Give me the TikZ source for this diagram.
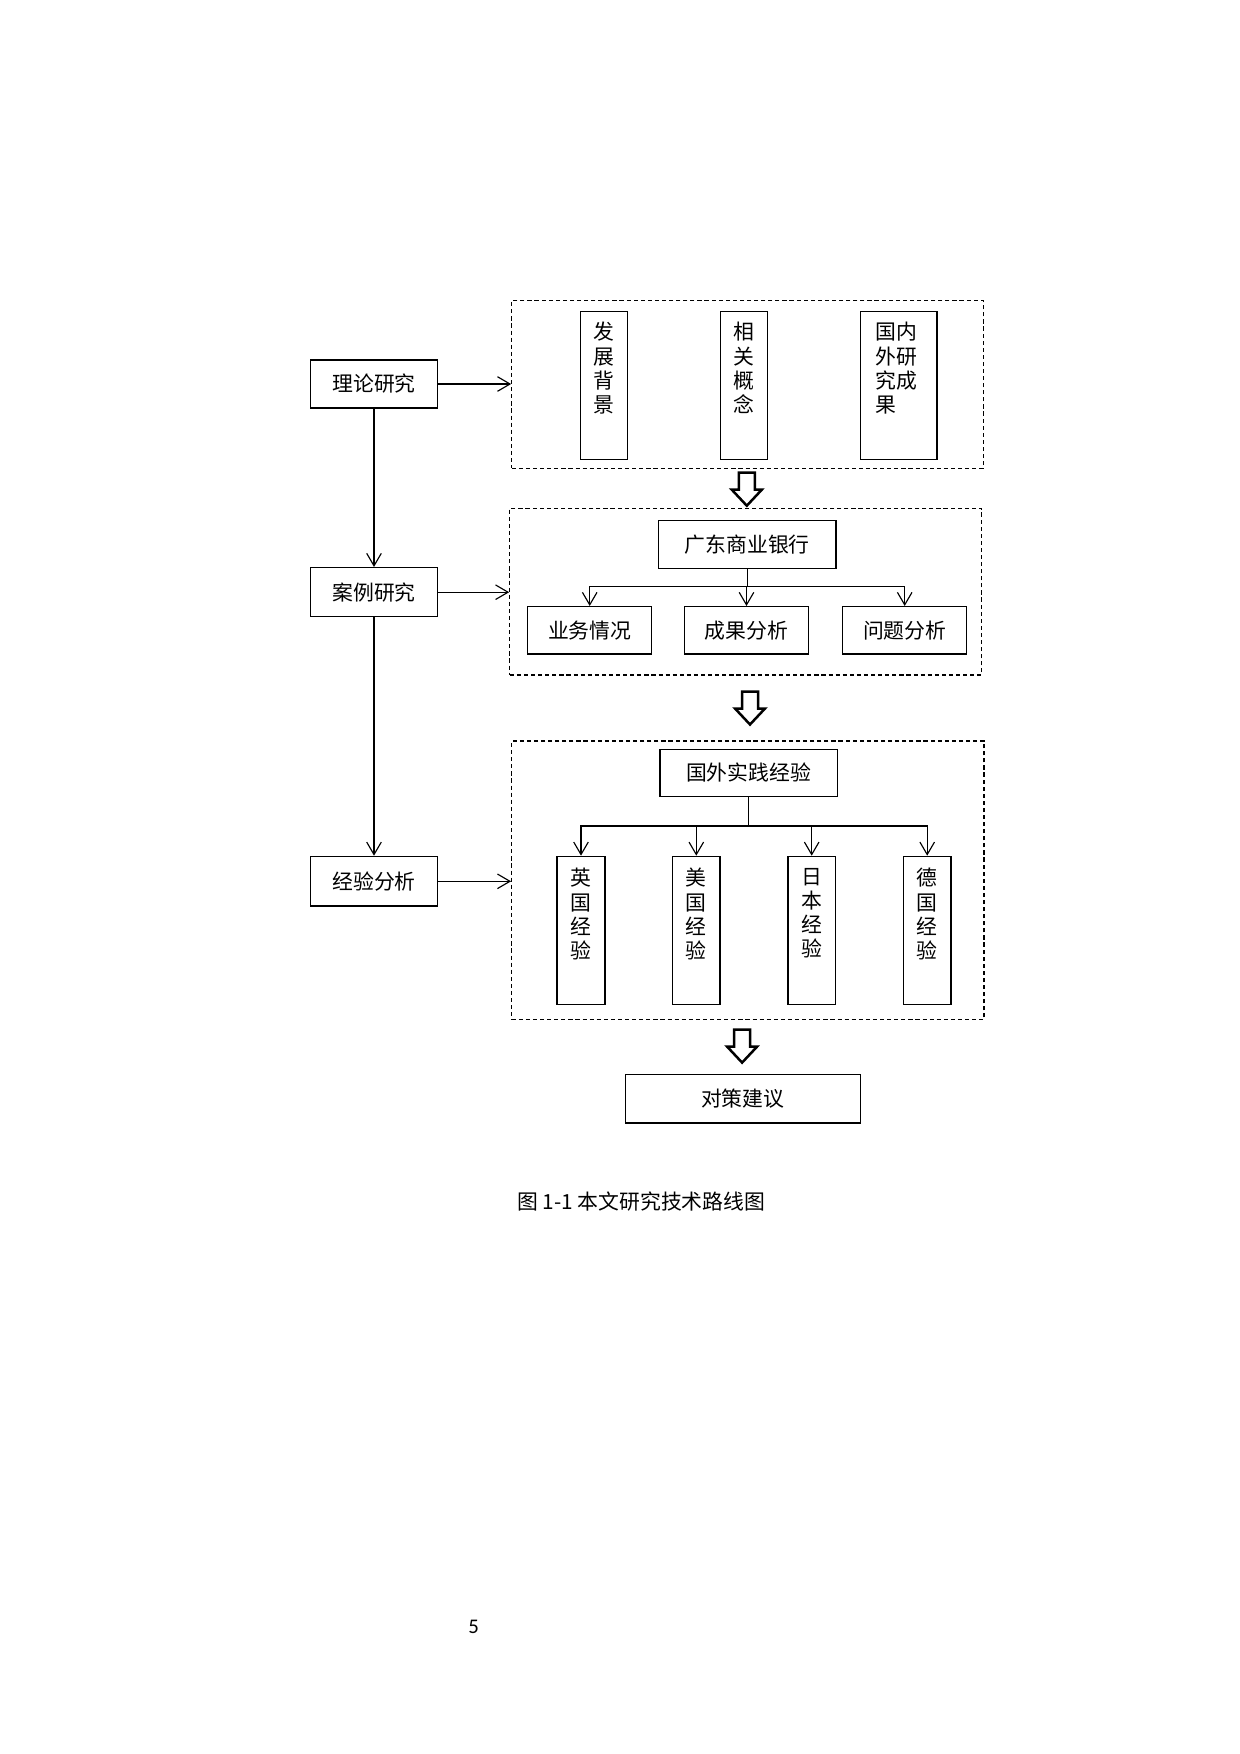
\documentclass[tikz,border=0pt]{standalone}
\usepackage{fontspec}
\setmainfont{Noto Sans CJK SC}
\newfontfamily\numfont{Carlito}
\usetikzlibrary{arrows.meta,calc}
\begin{document}
\begin{tikzpicture}[x=0.48pt,y=-0.48pt,
  box/.style={draw, line width=0.7pt, inner sep=0pt, font=\fontsize{10pt}{11.6pt}\selectfont},
  vbox/.style={draw, line width=0.7pt, inner sep=0pt},
  vtxt/.style={anchor=north, align=left, inner sep=0pt, font=\fontsize{10pt}{11.6pt}\selectfont},
  dbox/.style={draw, line width=0.6pt, dash pattern=on 2pt off 1.4pt, inner sep=0pt},
  arr/.style={line width=0.55pt, -{Straight Barb[length=6pt,width=7pt,line width=0.55pt]}},
  ln/.style={line width=0.55pt},
  hollowdown/.pic={\draw[line width=1.2pt, line join=miter] (-8,0) -- (8,0) -- (8,17) -- (15,17) -- (0,33) -- (-15,17) -- (-8,17) -- cycle;}
]
\useasboundingbox (0,0) rectangle (1240,1754);

% left column
\node[box, minimum width=126.6*0.48pt, minimum height=48.3*0.48pt] (ll) at (374,384) {理论研究};
\node[box, minimum width=126.6*0.48pt, minimum height=49*0.48pt] (al) at (374,592.2) {案例研究};
\node[box, minimum width=126.6*0.48pt, minimum height=49.7*0.48pt] (jy) at (374,881.3) {经验分析};

% dashed groups
\node[dbox, minimum width=471.5*0.48pt, minimum height=167.6*0.48pt] (d1) at (747.5,384.5) {};
\node[dbox, minimum width=472*0.48pt, minimum height=166.7*0.48pt] (d2) at (745.8,591.65) {};
\node[dbox, minimum width=472.4*0.48pt, minimum height=278.6*0.48pt] (d3) at (747.9,880.3) {};

% group 1
\node[vbox, minimum width=47.2*0.48pt, minimum height=147.6*0.48pt] (b1) at (604.1,385.5) {};
\node[vbox, minimum width=47.2*0.48pt, minimum height=147.6*0.48pt] (b2) at (744,385.5) {};
\node[vbox, minimum width=76.6*0.48pt, minimum height=147.6*0.48pt] (b3) at (898.6,385.5) {};
\node[vtxt] (t1) at ($(b1.north)+(0,11)$) {发\\展\\背\\景};
\node[vtxt] (t2) at ($(b2.north)+(0,11)$) {相\\关\\概\\念};
\node[vtxt] (t3) at ($(b3.north)+(-2,11)$) {国内\\外研\\究成\\果};

% group 2
\node[box, minimum width=177.6*0.48pt, minimum height=47.6*0.48pt] (gd) at (747.2,544.5) {广东商业银行};
\node[box, minimum width=123.9*0.48pt, minimum height=47.3*0.48pt] (c1) at (589.7,630.35) {业务情况};
\node[box, minimum width=123.9*0.48pt, minimum height=47.3*0.48pt] (c2) at (746.5,630.35) {成果分析};
\node[box, minimum width=123.9*0.48pt, minimum height=47.3*0.48pt] (c3) at (904.7,630.35) {问题分析};
\coordinate (br2) at (747.2,586.7);
\draw[ln] (gd.south) -- (br2);
\draw[arr] (br2) -| (c1.north);
\draw[arr] (br2) -| (c3.north);
\draw[arr] (br2) -| (c2.north);

% group 3
\node[box, minimum width=177.5*0.48pt, minimum height=47.1*0.48pt] (gw) at (748.6,772.85) {国外实践经验};
\node[vbox, minimum width=47.7*0.48pt, minimum height=148.2*0.48pt] (e1) at (581,930.5) {};
\node[vbox, minimum width=47.7*0.48pt, minimum height=148.2*0.48pt] (e2) at (696.3,930.5) {};
\node[vbox, minimum width=47.7*0.48pt, minimum height=148.2*0.48pt] (e3) at (811.7,930.5) {};
\node[vbox, minimum width=47.7*0.48pt, minimum height=148.2*0.48pt] (e4) at (927.2,930.5) {};
\node[vtxt] (u1) at ($(e1.north)+(0,12.3)$) {英\\国\\经\\验};
\node[vtxt] (u2) at ($(e2.north)+(0,12.3)$) {美\\国\\经\\验};
\node[vtxt] (u3) at ($(e3.north)+(0,12.3)$) {日\\本\\经\\验};
\node[vtxt] (u4) at ($(e4.north)+(0,12.3)$) {德\\国\\经\\验};
\coordinate (br3) at (748.6,826);
\draw[ln] (gw.south) -- (br3);
\draw[arr] (br3) -| (e1.north);
\draw[arr] (br3) -| (e2.north);
\draw[arr] (br3) -| (e3.north);
\draw[arr] (br3) -| (e4.north);

% final
\node[box, minimum width=234.9*0.48pt, minimum height=48.9*0.48pt] (dc) at (742.8,1098.75) {对策建议};

% left connectors
\draw[arr] (ll.south) -- (al.north);
\draw[arr] (al.south) -- (jy.north);
\draw[arr] (ll.east) -- (ll.east -| d1.west);
\draw[arr] (al.east) -- (al.east -| d2.west);
\draw[arr] (jy.east) -- (jy.east -| d3.west);

% hollow arrows
\pic at (746.8,472.7) {hollowdown};
\pic at (750,691.5) {hollowdown};
\pic at (742.1,1029.6) {hollowdown};

% caption and page number
\node[font=\fontsize{10pt}{12pt}\selectfont] (cap) at (641.3,1201.8) {图 1-1 本文研究技术路线图};
\node[font=\numfont\fontsize{10pt}{12pt}\selectfont] (pg) at (473.7,1626.7) {5};
\end{tikzpicture}
\end{document}
